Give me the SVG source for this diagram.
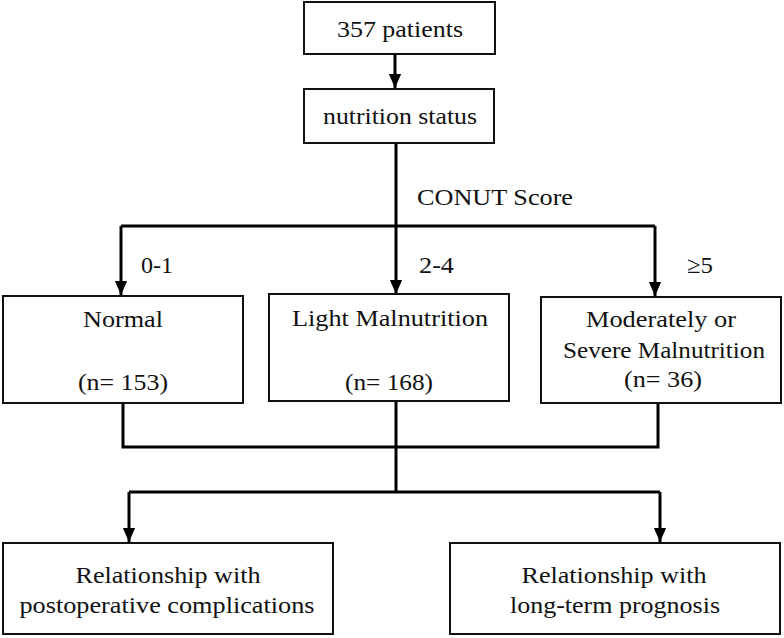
<svg xmlns="http://www.w3.org/2000/svg" width="784" height="638" viewBox="0 0 784 638" font-family="Liberation Serif" font-size="24">
<style>
.box{fill:#fff;stroke:#111;stroke-width:2}
.t{text-anchor:middle;fill:#111}
.c{fill:none;stroke:#000;stroke-width:3}
</style>
<defs>
<marker id="ad" markerUnits="userSpaceOnUse" markerWidth="14" markerHeight="16" viewBox="0 0 16 14" refX="16" refY="7" orient="auto">
<path d="M0,0 L16,7 L0,14 Z" fill="#000"/>
</marker>
</defs>
<rect width="784" height="638" fill="#fff"/>
<g id="connectors">
<path class="c" d="M395,54 V88" marker-end="url(#ad)"/>
<path class="c" d="M396,143 V226"/>
<path class="c" d="M121,226 H655"/>
<path class="c" d="M121,226 V295" marker-end="url(#ad)"/>
<path class="c" d="M396,226 V294" marker-end="url(#ad)"/>
<path class="c" d="M655,226 V296" marker-end="url(#ad)"/>
<path class="c" d="M123,403 V447 H658 V403"/>
<path class="c" d="M396,401 V492"/>
<path class="c" d="M129,492 H660"/>
<path class="c" d="M129,492 V542" marker-end="url(#ad)"/>
<path class="c" d="M660,492 V542" marker-end="url(#ad)"/>
</g>
<g id="labels" fill="#111">
<text x="417" y="205" textLength="156" lengthAdjust="spacingAndGlyphs">CONUT Score</text>
<text x="141" y="273" textLength="32" lengthAdjust="spacingAndGlyphs">0-1</text>
<text x="419" y="273" textLength="35" lengthAdjust="spacingAndGlyphs">2-4</text>
<text x="687" y="273" textLength="26" lengthAdjust="spacingAndGlyphs">≥5</text>
</g>
<g id="n-patients">
<rect class="box" x="304" y="2" width="191" height="52"/>
<text class="t" x="400" y="37" textLength="126" lengthAdjust="spacingAndGlyphs">357 patients</text>
</g>
<g id="n-nutrition">
<rect class="box" x="304" y="89" width="190" height="54"/>
<text class="t" x="400" y="124" textLength="154" lengthAdjust="spacingAndGlyphs">nutrition status</text>
</g>
<g id="n-normal">
<rect class="box" x="3" y="296" width="240" height="107"/>
<text class="t" x="123" y="327" textLength="80" lengthAdjust="spacingAndGlyphs">Normal</text>
<text class="t" x="123" y="390" textLength="90" lengthAdjust="spacingAndGlyphs">(n= 153)</text>
</g>
<g id="n-light">
<rect class="box" x="269" y="294" width="240" height="107"/>
<text class="t" x="390" y="326" textLength="196" lengthAdjust="spacingAndGlyphs">Light Malnutrition</text>
<text class="t" x="389" y="390" textLength="88" lengthAdjust="spacingAndGlyphs">(n= 168)</text>
</g>
<g id="n-severe">
<rect class="box" x="541" y="297" width="240" height="106"/>
<text class="t" x="661" y="327" textLength="150" lengthAdjust="spacingAndGlyphs">Moderately or</text>
<text class="t" x="664" y="358" textLength="202" lengthAdjust="spacingAndGlyphs">Severe Malnutrition</text>
<text class="t" x="663" y="387" textLength="78" lengthAdjust="spacingAndGlyphs">(n= 36)</text>
</g>
<g id="n-postop">
<rect class="box" x="3" y="543" width="330" height="91"/>
<text class="t" x="168" y="583" textLength="185" lengthAdjust="spacingAndGlyphs">Relationship with</text>
<text class="t" x="167" y="613" textLength="295" lengthAdjust="spacingAndGlyphs">postoperative complications</text>
</g>
<g id="n-longterm">
<rect class="box" x="450" y="543" width="330" height="91"/>
<text class="t" x="614" y="583" textLength="185" lengthAdjust="spacingAndGlyphs">Relationship with</text>
<text class="t" x="615" y="613" textLength="210" lengthAdjust="spacingAndGlyphs">long-term prognosis</text>
</g>
</svg>
